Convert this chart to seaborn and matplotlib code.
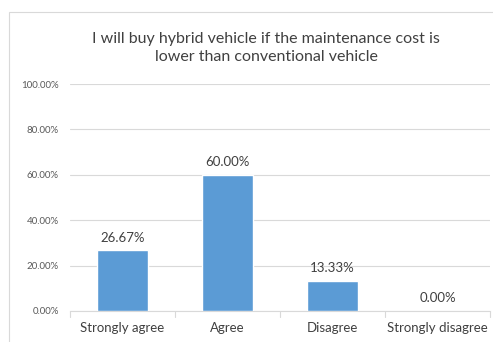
import matplotlib
matplotlib.use("Agg")
import matplotlib.pyplot as plt
import seaborn as sns
import pandas as pd
from matplotlib.patches import Rectangle
from matplotlib.ticker import FuncFormatter

categories = ["Strongly agree", "Agree", "Disagree", "Strongly disagree"]
values = [26.67, 60.00, 13.33, 0.00]
yticks = [0, 20, 40, 60, 80, 100]
title = "I will buy hybrid vehicle if the maintenance cost is\nlower than conventional vehicle"

sns.set_theme(style="white")
plt.rcParams["font.family"] = ["Lato", "DejaVu Sans"]

df = pd.DataFrame({"category": categories, "value": values})

fig = plt.figure(figsize=(4.93, 3.42), dpi=100)
fig.patch.set_facecolor("white")
fig.patches.append(Rectangle((9 / 493, -0.01), 1.0, 1 - 12 / 342 + 0.01,
                             transform=fig.transFigure, fill=False,
                             edgecolor="#d9d9d9", linewidth=0.8))

ax = fig.add_axes([70 / 493, 1 - 311 / 342, 420 / 493, (311 - 84) / 342])
sns.barplot(data=df, x="category", y="value", color="#5B9BD5", saturation=1,
            width=0.49, ax=ax, zorder=3)

ax.set_ylim(0, 100)
ax.set_xlim(-0.5, 3.5)
ax.set_yticks(yticks)
ax.yaxis.set_major_formatter(FuncFormatter(lambda v, p: f"{v:.2f}%"))
ax.grid(axis="y", color="#d9d9d9", linewidth=0.8, zorder=0)
for s in ["top", "right", "left"]:
    ax.spines[s].set_visible(False)
ax.spines["bottom"].set_color("#d9d9d9")
ax.spines["bottom"].set_linewidth(0.8)
ax.set_xlabel("")
ax.set_ylabel("")
ax.tick_params(axis="y", labelsize=7, labelcolor="#595959", length=0, pad=8)
ax.tick_params(axis="x", labelsize=9.5, labelcolor="#404040", length=0, pad=8)

# category separators below the axis
for b in [-0.5, 0.5, 1.5, 2.5, 3.5]:
    ax.plot([b, b], [0, -2.5], color="#d9d9d9", linewidth=0.8, clip_on=False)

for i, v in enumerate(values):
    ax.text(i, v + 3, f"{v:.2f}%", ha="center", va="bottom", fontsize=9.5,
            color="#404040")

fig.text(266 / 493, 1 - 48 / 342, title, ha="center", va="center",
         fontsize=11.5, color="#404040", linespacing=1.35)

fig.savefig("out.png", dpi=100)
